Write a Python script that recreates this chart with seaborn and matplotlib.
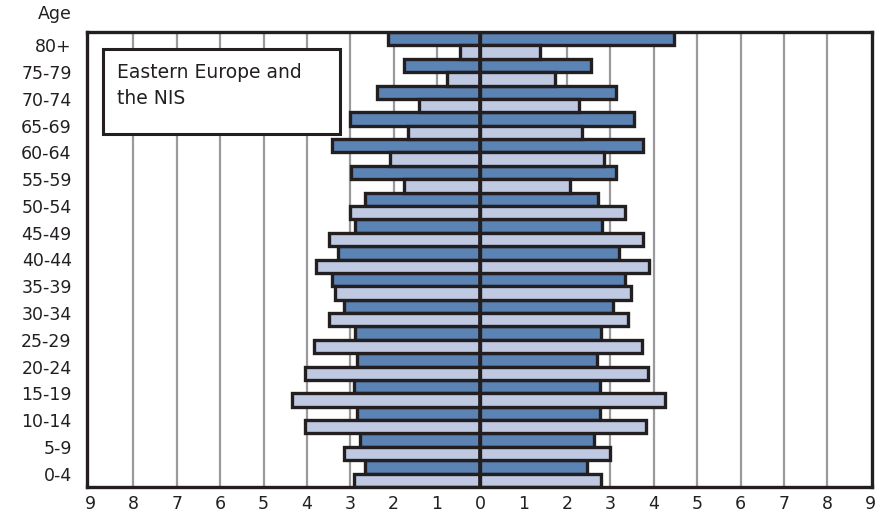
import numpy as np
import pandas as pd
import matplotlib.pyplot as plt
import matplotlib.patches as patches
import seaborn as sns

sns.set_style('white')
plt.rcParams['font.family'] = ['DejaVu Sans']

# dados (% da populacao)
ages = ['80+', '75-79', '70-74', '65-69', '60-64', '55-59', '50-54', '45-49',
        '40-44', '35-39', '30-34', '25-29', '20-24', '15-19', '10-14', '5-9', '0-4']
dark_left = [2.12, 1.75, 2.39, 3.01, 3.41, 2.99, 2.67, 2.88, 3.29, 3.41, 3.15, 2.88, 2.85, 2.92, 2.85, 2.78, 2.67]
dark_right = [4.46, 2.56, 3.13, 3.55, 3.76, 3.13, 2.72, 2.81, 3.20, 3.33, 3.06, 2.78, 2.69, 2.76, 2.76, 2.62, 2.46]
light_left = [0.48, 0.76, 1.41, 1.68, 2.09, 1.75, 3.01, 3.50, 3.80, 3.36, 3.50, 3.84, 4.05, 4.35, 4.05, 3.15, 2.92]
light_right = [1.38, 1.73, 2.28, 2.34, 2.85, 2.06, 3.33, 3.75, 3.89, 3.47, 3.41, 3.73, 3.87, 4.26, 3.82, 2.99, 2.78]
xticks = list(range(-9, 10))

cores = {'dark': '#5b84b5', 'light': '#bfc9e2'}
edge = '#231f20'

df_left = pd.DataFrame({'age': ages * 2,
                        'value': [-v for v in dark_left] + [-v for v in light_left],
                        'serie': ['dark'] * len(ages) + ['light'] * len(ages)})
df_right = pd.DataFrame({'age': ages * 2,
                         'value': dark_right + light_right,
                         'serie': ['dark'] * len(ages) + ['light'] * len(ages)})

fig = plt.figure(figsize=(8.85, 5.19), dpi=100)
ax = fig.add_axes([87 / 885, 1 - 487 / 519, 785 / 885, 455 / 519])

for d in (df_left, df_right):
    sns.barplot(data=d, x='value', y='age', hue='serie', order=ages,
                hue_order=['dark', 'light'], palette=cores, saturation=1,
                orient='h', width=1.0, edgecolor=edge, linewidth=2.4,
                legend=False, ax=ax, zorder=3)

ax.set_xlim(-9.07, 9.03)
ax.set_ylim(len(ages) - 0.5, -0.5)
ax.set_xticks(xticks)
ax.set_xticklabels([str(abs(t)) for t in xticks])
ax.set_xlabel('')
ax.set_ylabel('')
ax.grid(False)
for t in range(-8, 9):
    ax.axvline(t, color='#9a9a9e', lw=1.6, zorder=1)
ax.axvline(0, color=edge, lw=2.6, zorder=5)

ax.tick_params(axis='both', length=0, labelsize=12.5, colors='#231f20')
ax.tick_params(axis='y', pad=11)
ax.tick_params(axis='x', pad=6)
for s in ax.spines.values():
    s.set_color(edge)
    s.set_linewidth(2.4)
    s.set_zorder(6)

# caixa com o titulo da regiao
box = patches.Rectangle((0.0204, 0.7758), 0.302, 0.1868, transform=ax.transAxes,
                        facecolor='white', edgecolor=edge, lw=2.2, zorder=7)
ax.add_patch(box)
ax.text(0.038, 0.932, 'Eastern Europe and\nthe NIS', transform=ax.transAxes,
        ha='left', va='top', fontsize=13.5, color='#231f20', linespacing=1.45, zorder=8)

fig.text(72 / 885, 1 - 14 / 519, 'Age', ha='right', va='center', fontsize=12.5, color='#231f20')

fig.savefig('out.png', dpi=100)
